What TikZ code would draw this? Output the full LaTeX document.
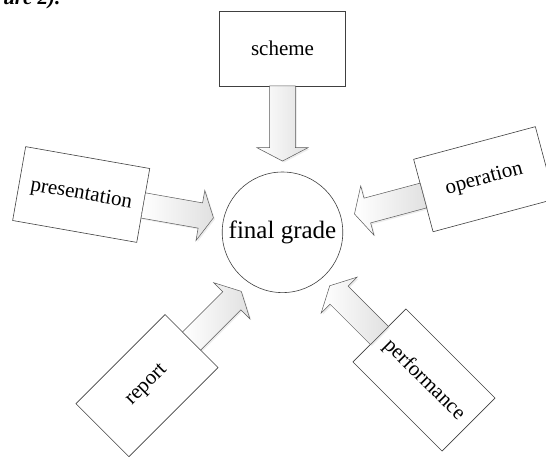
\documentclass[tikz,border=0pt]{standalone}
\usepackage{fontspec}
\setmainfont{Liberation Serif}
\usetikzlibrary{shadows}

\tikzset{
  itembox/.style={draw=black!75, fill=white, line width=0.6pt,
    minimum width=126pt, minimum height=75pt, inner sep=0pt,
    font=\fontsize{21}{25}\selectfont},
  gradecircle/.style={circle, draw=black!75, line width=0.6pt,
    minimum size=120.6pt, inner sep=0pt, font=\fontsize{25}{30}\selectfont},
  bigarrow/.style={draw=black!65, line width=0.5pt, left color=white, right color=black!12,
    drop shadow={opacity=0.15, shadow xshift=1.5pt, shadow yshift=-1.5pt}},
}

% block arrow out of a box: node, angle, start, head base
\newcommand{\blockarrow}[4]{%
  \begin{scope}[shift={(#1.center)}, rotate=#2]
    \draw[bigarrow] (#3,12.8) -- (#4,12.8) -- (#4,25.5) -- ({#4+13.3},0)
      -- (#4,-25.5) -- (#4,-12.8) -- (#3,-12.8) -- cycle;
  \end{scope}}

\begin{document}
\begin{tikzpicture}[x=1pt, y=1pt]
  \useasboundingbox (0,0) rectangle (546,-456);
  \node[anchor=base east, font=\fontsize{21}{25}\selectfont\bfseries\itshape] (fig) at (64,-4.5) {ure 2).};

  \node[gradecircle] (grade) at (282.5,-232.3) {final grade};
  \node[itembox] (scheme) at (282.5,-48.3) {scheme};
  \node[itembox, rotate=-10] (presentation) at (81.2,-194.5) {presentation};
  \node[itembox, rotate=15] (operation) at (484.2,-179.2) {operation};
  \node[itembox, rotate=45] (report) at (147,-385.6) {report};
  \node[itembox, rotate=-45] (performance) at (424,-380) {performance};

  \blockarrow{scheme}{-90}{37.6}{99.4}
  \blockarrow{presentation}{-10}{63}{121}
  \blockarrow{operation}{195}{63}{121}
  \blockarrow{report}{45}{63}{120}
  \blockarrow{performance}{135}{63}{120}
\end{tikzpicture}
\end{document}
